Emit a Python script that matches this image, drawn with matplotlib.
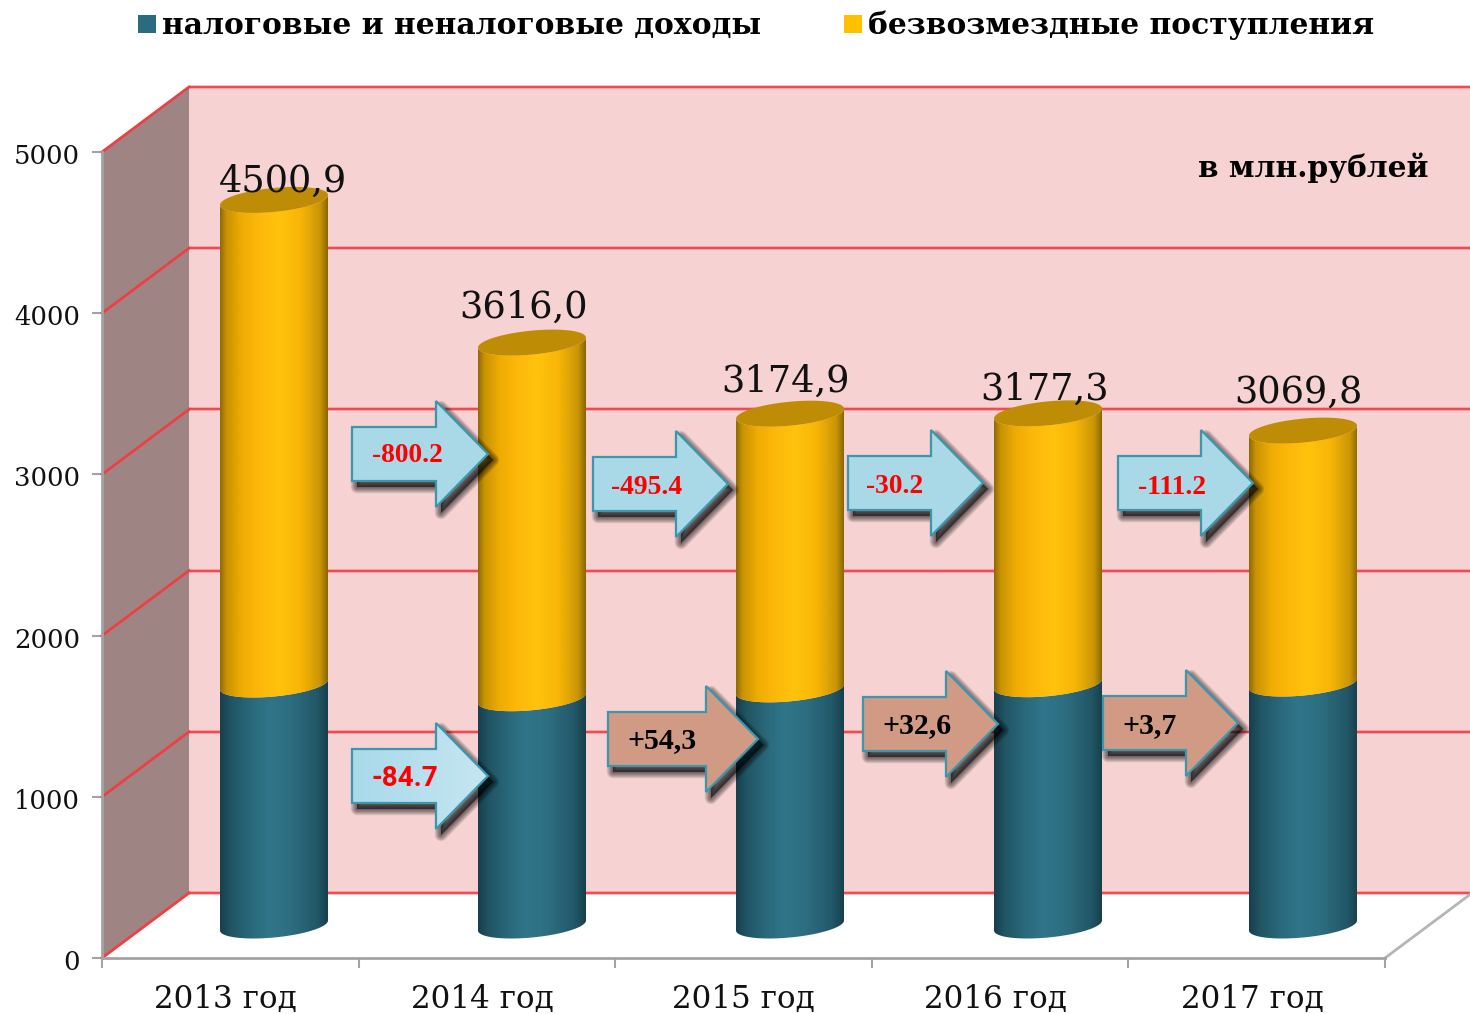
import numpy as np
import matplotlib
matplotlib.use("Agg")
import matplotlib.pyplot as plt
from matplotlib.patches import Polygon, Patch
from matplotlib.colors import LinearSegmentedColormap
from matplotlib.transforms import ScaledTranslation

years = ["2013 год", "2014 год", "2015 год", "2016 год", "2017 год"]
tax_income = [1495, 1410, 1465, 1497, 1501]
grants = [3006, 2206, 1710, 1680, 1569]
total_labels = ["4500,9", "3616,0", "3174,9", "3177,3", "3069,8"]
series_names = ["налоговые и неналоговые доходы", "безвозмездные поступления"]
y_ticks = [0, 1000, 2000, 3000, 4000, 5000]

W, H = 1470, 1014
PX_L, PX_R, PX_B, PX_T = 102, 1385, 958, 152
fig = plt.figure(figsize=(W / 100, H / 100), dpi=100, facecolor="white")
ax = fig.add_axes([PX_L / W, 1 - PX_B / H, (PX_R - PX_L) / W, (PX_B - PX_T) / H])
ax.patch.set_visible(False)
ax.set_xlim(0, 5)
ax.set_ylim(0, 5000)
ax.set_autoscale_on(False)

sx = (PX_R - PX_L) / 5.0
sy = (PX_B - PX_T) / 5000.0
def X(px): return (np.asarray(px, float) - PX_L) / sx
def Y(py): return (PX_B - np.asarray(py, float)) / sy
DX, DY = 87 / sx, 65 / sy

SERIF = "DejaVu Serif"

# back wall and side wall
ax.add_patch(Polygon([[DX, DY], [X(W), DY], [X(W), 5000 + DY], [DX, 5000 + DY]],
                     fc="#f6d2d2", ec="none", clip_on=False, zorder=1))
ax.add_patch(Polygon([[0, 0], [DX, DY], [DX, 5000 + DY], [0, 5000]],
                     fc="#9e8584", ec="none", clip_on=False, zorder=1))
for v in y_ticks:
    ax.plot([DX, X(W)], [v + DY, v + DY], color="#ff6a70", lw=2.6, alpha=0.55, clip_on=False, zorder=2,
            solid_capstyle="butt")
    ax.plot([DX, X(W)], [v + DY, v + DY], color="#ee3a42", lw=1.2, clip_on=False, zorder=2,
            solid_capstyle="butt")
    ax.plot([0, DX], [v, v + DY], color="#ee3f44", lw=2.0, clip_on=False, zorder=2)
ax.plot([5, 5 + DX], [0, DY], color="#b5b5b5", lw=2.0, clip_on=False, zorder=2)

# cylinders
teal_cm = LinearSegmentedColormap.from_list("t", [(0, "#173f4c"), (0.1, "#215564"), (0.3, "#2a6a7c"), (0.45, "#30758a"),
                                                  (0.65, "#2d6e81"), (0.9, "#225767"), (1, "#17404c")])
gold_cm = LinearSegmentedColormap.from_list("g", [(0, "#8e6a05"), (0.06, "#c99303"), (0.2, "#efac03"), (0.35, "#fdb70a"),
                                                  (0.55, "#ffc30d"), (0.75, "#f8b506"), (0.93, "#c99506"), (1, "#8a6705")])
grad = np.linspace(0, 1, 256).reshape(1, -1)
half_w = 54 / sx
semi_b = 12 / sy
shear = 5 / sy
ts = np.linspace(np.pi, 2 * np.pi, 60)

def body(cx, low, high, cmap, z):
    xa = cx + half_w * np.cos(ts)
    ya0 = semi_b * np.sin(ts) + shear * np.cos(ts)
    pts = np.vstack([np.column_stack([xa, low + ya0]),
                     np.column_stack([xa[::-1], high + ya0[::-1]])])
    poly = Polygon(pts, closed=True, fc="none", ec="none")
    ax.add_patch(poly)
    im = ax.imshow(grad, cmap=cmap, extent=[cx - half_w, cx + half_w, low - 2 * semi_b, high + semi_b],
                   aspect="auto", interpolation="bilinear", zorder=z)
    im.set_clip_path(poly)

bar_xs = [X(p) for p in (274, 532, 790, 1048, 1303)]
base = DY / 2
for i, cx in enumerate(bar_xs):
    t0 = base
    t1 = t0 + tax_income[i]
    t2 = t1 + grants[i]
    body(cx, t0, t1, teal_cm, 4)
    body(cx, t1, t2, gold_cm, 4)
    tt = np.linspace(0, 2 * np.pi, 100)
    cap = np.column_stack([cx + half_w * np.cos(tt),
                           t2 + semi_b * np.sin(tt) + shear * np.cos(tt)])
    ax.add_patch(Polygon(cap, fc="#bf8d05", ec="none", zorder=5))

# total labels
label_px = [(283, 182), (524, 308), (785, 382), (1045, 390), (1298, 393)]
for s, (px, py) in zip(total_labels, label_px):
    ax.text(X(px), Y(py), s, family=SERIF, fontsize=26.4, color="#111111", ha="center", va="center",
            zorder=7, clip_on=False)

# change arrows: label, x0, neck, tip, y centre, colour, text colour, family, font size, text centre
arrows = [
    ("-800.2", 352, 436, 488, 454, "#a9d9e6", "#ff0000", "Liberation Serif", 19.8, 407, 455),
    ("-495.4", 593, 676, 728, 484, "#a9d9e6", "#ff0000", "Liberation Serif", 19.8, 647, 487),
    ("-30.2", 848, 931, 983, 483, "#a9d9e6", "#ff0000", "Liberation Serif", 19.8, 895, 486),
    ("-111.2", 1118, 1201, 1253, 483, "#a9d9e6", "#ff0000", "Liberation Serif", 19.8, 1172, 487),
    ("-84.7", 352, 436, 488, 776, None, "#ff0000", "Roboto", 20, 405, 778),
    ("+54,3", 608, 706, 758, 739, "#d19a85", "#000000", "Liberation Serif", 21.5, 662, 741),
    ("+32,6", 863, 946, 998, 724, "#d19a85", "#000000", "Liberation Serif", 21.5, 917, 726),
    ("+3,7", 1103, 1186, 1238, 723, "#d19a85", "#000000", "Liberation Serif", 21.5, 1150, 726),
]
blue_cm = LinearSegmentedColormap.from_list("b", ["#a9d9ea", "#c6e6f1"])
for s, x0, nk, tip, yc, fc, tc, fam, fs, tx, ty in arrows:
    shape = np.array([[x0, yc - 27], [nk, yc - 27], [nk, yc - 53], [tip, yc],
                      [nk, yc + 53], [nk, yc + 27], [x0, yc + 27]], float)
    sh = shape + [5, 6]
    for lw in (9, 7.8, 6.6, 5.4, 4.2, 3, 1.8, 0.6):
        ax.add_patch(Polygon(np.column_stack([X(sh[:, 0]), Y(sh[:, 1])]), fc=(0, 0, 0, 0.09), ec=(0, 0, 0, 0.09),
                             lw=lw, joinstyle="round", zorder=8, clip_on=False))
    pts = np.column_stack([X(shape[:, 0]), Y(shape[:, 1])])
    if fc is None:
        p = Polygon(pts, fc="none", ec="none", zorder=9)
        ax.add_patch(p)
        im = ax.imshow(grad, cmap=blue_cm, extent=[X(x0), X(tip), Y(yc + 53), Y(yc - 53)],
                       aspect="auto", interpolation="bilinear", zorder=9)
        im.set_clip_path(p)
        ax.add_patch(Polygon(pts, fc="none", ec="#3c97ae", lw=1.6, zorder=9.5))
    else:
        ax.add_patch(Polygon(pts, fc=fc, ec="#3c97ae", lw=1.6, zorder=9.5))
    ax.text(X(tx), Y(ty), s, family=fam, weight="bold", fontsize=fs, color=tc,
            ha="center", va="center", zorder=10)

# unit note
ax.text(X(1313), Y(168), "в млн.рублей", family=SERIF, weight="bold", fontsize=21.3, color="black",
        ha="center", va="center", zorder=7)

# axes
for sp in ("top", "right"):
    ax.spines[sp].set_visible(False)
for sp in ("left", "bottom"):
    ax.spines[sp].set_color("#a3a3a3")
    ax.spines[sp].set_linewidth(2)
    ax.spines[sp].set_zorder(3)
ax.set_yticks(y_ticks)
ax.set_yticklabels([str(v) for v in y_ticks], family=SERIF, fontsize=18.6)
ax.set_xticks(range(6))
ax.set_xticklabels([""] * 6)
ax.tick_params(axis="both", color="#a3a3a3", width=1.5, length=7, labelcolor="#111111")
ax.tick_params(axis="y", pad=9)
shift_down = ScaledTranslation(0, -2 / 100, fig.dpi_scale_trans)
for lab in ax.get_yticklabels():
    lab.set_transform(lab.get_transform() + shift_down)
for px, s in zip((225, 482, 743, 995, 1252), years):
    ax.text(X(px), Y(999), s, family=SERIF, fontsize=22.3, color="#111111", ha="center", va="center",
            clip_on=False)

# legend
handles = [Patch(fc="#2a6c7f", ec="none"), Patch(fc="#ffc000", ec="none")]
leg = fig.legend(handles, series_names, ncol=2, loc="upper left", bbox_to_anchor=(126 / W, 1 + 1 / H),
                 frameon=False, handlelength=0.6, handleheight=0.55, handletextpad=0.2,
                 columnspacing=2.8, borderaxespad=0, prop={"family": SERIF, "weight": "bold", "size": 21.4})

fig.savefig("out.png", dpi=100, facecolor="white")
